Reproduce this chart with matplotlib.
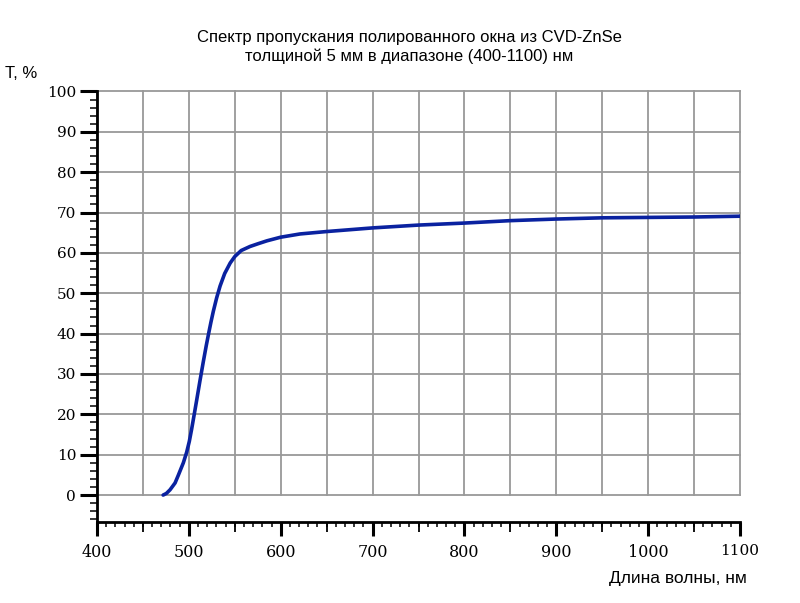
import matplotlib
matplotlib.use("Agg")
import matplotlib.pyplot as plt
import numpy as np
from matplotlib.ticker import MultipleLocator
from matplotlib.markers import TICKDOWN

# Data
wavelength_nm = [472, 475.5, 479.5, 485, 488.5, 494, 497.6, 500.5, 503, 506, 508.5,
                 512, 515.7, 519, 521.5, 524, 526.6, 530.3, 534, 539, 545, 550,
                 557, 566.6, 575.6, 585, 600, 621, 650, 700, 750, 800, 850, 900,
                 950, 1000, 1050, 1100]
transmission = [0.0, 0.4, 1.3, 3.0, 4.9, 8.0, 10.6, 13.3, 16.3, 20.2, 23.5,
                28.2, 33.0, 37.1, 40.0, 42.8, 45.5, 48.9, 51.8, 54.9, 57.5, 59.1,
                60.6, 61.6, 62.3, 63.0, 63.9, 64.7, 65.3, 66.2, 66.9, 67.4, 68.0, 68.4,
                68.7, 68.8, 68.9, 69.1]

x_ticks = [400, 500, 600, 700, 800, 900, 1000, 1100]
x_mid_ticks = [450, 550, 650, 750, 850, 950, 1050]
y_ticks = [0, 10, 20, 30, 40, 50, 60, 70, 80, 90, 100]

title = "Спектр пропускания полированного окна из CVD-ZnSe\nтолщиной 5 мм в диапазоне (400-1100) нм"
xlabel = "Длина волны, нм"
ylabel = "T, %"

fig = plt.figure(figsize=(8, 6.03), dpi=100)
ax = fig.add_axes([97/800, 1-521.7/603, 643/800, (521.7-91.5)/603])
ax.set_xlim(400, 1100)
ax.set_ylim(-6.6, 100)

# grid box
grid_color = "#999999"
for y in y_ticks:
    ax.plot([400, 1100], [y, y], color=grid_color, lw=1.3, zorder=1, clip_on=False)
for x in np.arange(400, 1101, 50):
    ax.plot([x, x], [0, 100], color=grid_color, lw=1.3, zorder=1, clip_on=False)

ax.plot(wavelength_nm, transmission, color="#0a22a0", lw=2.6, zorder=3,
        solid_capstyle="round", solid_joinstyle="round")

for s in ["top", "right"]:
    ax.spines[s].set_visible(False)
for s in ["left", "bottom"]:
    ax.spines[s].set_linewidth(2.0)
    ax.spines[s].set_color("black")

ax.set_xticks(x_ticks)
ax.set_yticks(y_ticks)
ax.xaxis.set_minor_locator(MultipleLocator(10))
ax.yaxis.set_minor_locator(MultipleLocator(2))
ax.tick_params(axis="x", which="major", direction="out", length=10, width=2.2, pad=6)
ax.tick_params(axis="x", which="minor", direction="out", length=3.8, width=1.1)
ax.tick_params(axis="y", which="major", direction="out", length=12, width=2.2, pad=3)
ax.tick_params(axis="y", which="minor", direction="out", length=5, width=1.1)

# medium ticks at 50s on x
ax.plot(x_mid_ticks, [-6.6]*len(x_mid_ticks), linestyle="none", marker=TICKDOWN,
        markersize=7, mew=1.3, color="black", clip_on=False, zorder=4)

ax.set_xticklabels([str(v) for v in x_ticks], family="DejaVu Serif", fontsize=11.5)
ax.set_yticklabels([str(v) for v in y_ticks], family="DejaVu Serif", fontsize=11)
ax.get_xticklabels()[-1].set_fontsize(11)

fig.text(409/800, 1-47/603, title, ha="center", va="center", fontsize=12,
         family="Liberation Sans", linespacing=1.25)
fig.text(5/800, 1-74/603, ylabel, ha="left", va="center", fontsize=12,
         family="Liberation Sans")
fig.text(747/800, 1-579/603, xlabel, ha="right", va="center", fontsize=12.5,
         family="Liberation Sans")

fig.savefig("out.png", dpi=100)
